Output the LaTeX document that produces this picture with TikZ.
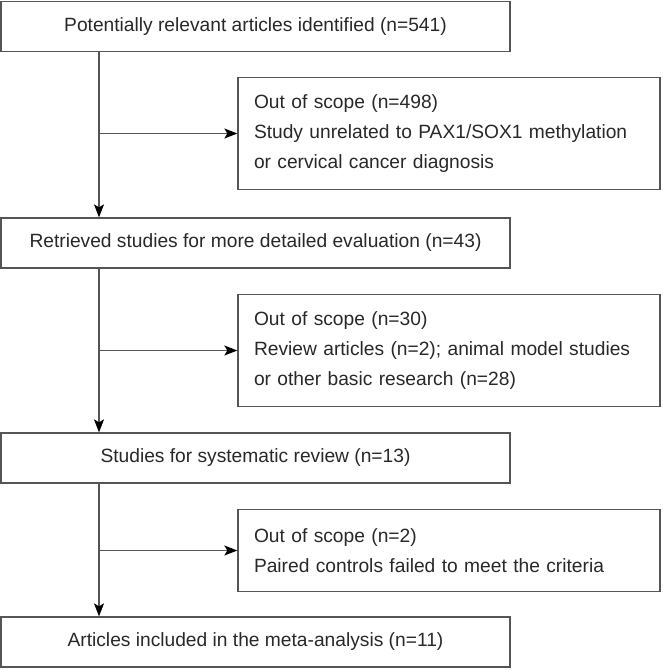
\documentclass[tikz,border=0pt]{standalone}
\usepackage{fontspec}
\setmainfont{Liberation Sans}
\usepackage{tikz}
\usetikzlibrary{arrows.meta, calc}

\definecolor{edgegray}{RGB}{85,85,85}
\definecolor{inkgray}{RGB}{40,40,40}

\tikzset{
    stagebox/.style={draw=edgegray, line width=1.3pt, minimum width=509pt, minimum height=50pt, inner sep=0pt, text=inkgray},
    dropbox/.style={draw=edgegray, line width=1.3pt, text width=390pt, inner xsep=16pt, inner ysep=0pt, align=left, text=inkgray},
    flow/.style={draw=edgegray, line width=1.3pt, -{Stealth[length=13pt, width=10pt, inset=3pt, black]}}
}

\begin{document}
\begin{tikzpicture}[x=1pt, y=-1pt, font=\fontsize{19.2}{30}\selectfont]
    \useasboundingbox (0,0) rectangle (662,670);
    \coordinate (spine) at (99,0);
    % main stages
    \node[stagebox] (found) at (255.5,26.5) {Potentially relevant articles identified (n=541)};
    \node[stagebox] (retrieved) at (255.5,243) {Retrieved studies for more detailed evaluation (n=43)};
    \node[stagebox] (review) at (255.5,458) {Studies for systematic review (n=13)};
    \node[stagebox] (meta) at (255.5,642) {Articles included in the meta-analysis (n=11)};
    % excluded records
    \node[dropbox, minimum height=112pt] (out1) at (449,133.5) {Out of scope (n=498)\\Study unrelated to PAX1/SOX1 methylation\\or cervical cancer diagnosis};
    \node[dropbox, minimum height=112pt] (out2) at (449,350.5) {Out of scope (n=30)\\Review articles (n=2); animal model studies\\or other basic research (n=28)};
    \node[dropbox, minimum height=82pt] (out3) at (449,550.5) {Out of scope (n=2)\\Paired controls failed to meet the criteria};
    % arrows
    \draw[flow] (found.south -| spine) -- (retrieved.north -| spine);
    \draw[flow] (retrieved.south -| spine) -- (review.north -| spine);
    \draw[flow] (review.south -| spine) -- (meta.north -| spine);
    \draw[flow] (out1.west -| spine) -- (out1.west);
    \draw[flow] (out2.west -| spine) -- (out2.west);
    \draw[flow] (out3.west -| spine) -- (out3.west);
\end{tikzpicture}
\end{document}
